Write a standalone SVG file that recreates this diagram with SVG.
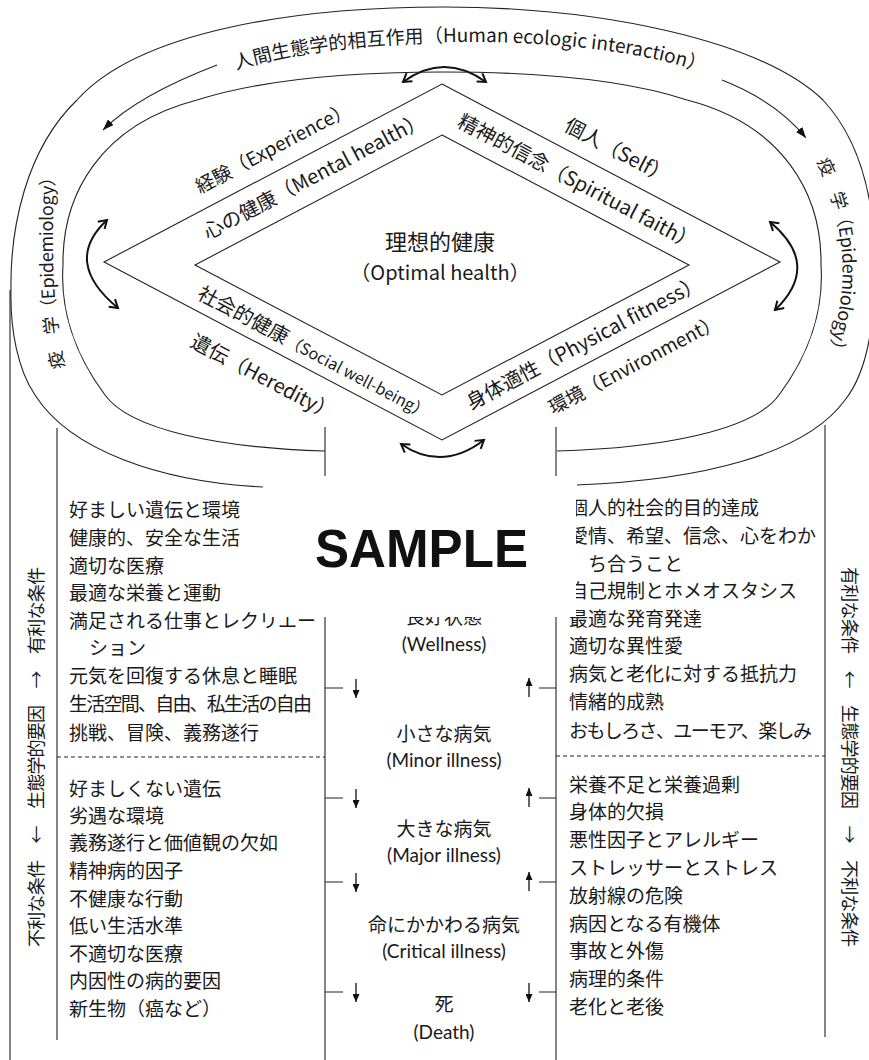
<svg xmlns="http://www.w3.org/2000/svg" width="869" height="1060" viewBox="0 0 869 1060">
<style>
text{font-family:"Noto Sans CJK JP","Noto Sans",sans-serif;fill:#1a1a1a}
.ln{fill:none;stroke:#222;stroke-width:1.1}
.dl{fill:none;stroke:#222;stroke-width:1;stroke-dasharray:4 3}
.da{fill:none;stroke:#111;stroke-width:2;marker-start:url(#chev);marker-end:url(#chev)}
.ar{fill:none;stroke:#111;stroke-width:1.3;marker-end:url(#sm)}
.lst{font-size:19px}
.mid{font-size:19px;text-anchor:middle}
.lat{font-family:Lato,"Noto Sans",sans-serif;font-size:19px;text-anchor:middle}
.dia{font-size:20px}
.vt{font-size:18px;text-anchor:middle;dominant-baseline:central}
.ep{font-size:18px;dominant-baseline:central}
</style>
<defs>
<marker id="chev" viewBox="0 0 12 12" refX="10" refY="6" markerWidth="12" markerHeight="12" markerUnits="userSpaceOnUse" orient="auto-start-reverse" overflow="visible"><path d="M2,1 L10,6 L2,11" fill="none" stroke="#111" stroke-width="2"/></marker>
<marker id="tri" viewBox="0 0 11 8" refX="11" refY="4" markerWidth="11" markerHeight="8" markerUnits="userSpaceOnUse" orient="auto"><path d="M0,0 L11,4 L0,8 z" fill="#111"/></marker>
<marker id="sm" viewBox="0 0 8 7" refX="8" refY="3.5" markerWidth="8" markerHeight="7" markerUnits="userSpaceOnUse" orient="auto"><path d="M0,0 L8,3.5 L0,7 z" fill="#111"/></marker>
<path id="arcTop" d="M225,74 C330,33 600,29 710,76"/>
<path id="epL" d="M57,369 Q40,300 47,160"/>
<path id="epR" d="M824,158 Q876,268 826,378"/>
</defs>
<rect width="869" height="1060" fill="#fff"/>

<g id="connectors">
  <path class="ln" d="M263,487 C160,482 70,450 35,395 C18,370 10,330 11,290 C10,230 25,150 77,100 C140,30 300,7 444,7 C600,7 760,40 823,100 C860,140 875,200 875,267 C875,330 865,375 845,400 C805,455 700,480 577,485"/>
  <path class="ln" d="M325,451 C220,448 130,430 105,395 C75,355 60,310 63,265 C62,195 100,125 197,100 C260,80 350,72 443,72 C536,72 626,80 687,100 C784,125 822,195 821,265 C824,310 809,355 779,395 C754,430 664,448 557,451"/>
  <path class="ln" d="M217,65 C170,83 130,103 103,130" marker-end="url(#tri)"/>
  <path class="ln" d="M722,80 C760,95 786,113 806,138" marker-end="url(#tri)"/>
  <path class="da" d="M403,82 Q444,52 486,82"/>
  <path class="da" d="M107,220 Q62,262 118,308"/>
  <path class="da" d="M770,222 Q822,265 775,310"/>
  <path class="da" d="M401,444 Q442,472 484,440"/>
  <path class="ln" d="M10,290 V1060"/>
  <path class="ln" d="M57,428 V1040"/>
  <path class="ln" d="M325,427 V1060"/>
  <path class="ln" d="M556,427 V1060"/>
  <path class="ln" d="M825,425 V1037"/>
  <path class="dl" d="M57,757 H325"/>
  <path class="dl" d="M556,756 H825"/>
  <path class="ln" d="M325,688 H343 M325,798 H343 M325,882 H343 M325,992 H343"/>
  <path class="ln" d="M539,688 H556 M539,798 H556 M539,882 H556 M539,992 H556"/>
  <path class="ar" d="M356,679 V698"/>
  <path class="ar" d="M356,789 V808"/>
  <path class="ar" d="M356,873 V892"/>
  <path class="ar" d="M356,983 V1002"/>
  <path class="ar" d="M529,697 V678"/>
  <path class="ar" d="M529,807 V788"/>
  <path class="ar" d="M529,891 V872"/>
  <path class="ar" d="M529,983 V1002"/>
</g>

<g id="diamond">
  <path class="ln" d="M442,84 L780,262 L442,440 L104,262 Z"/>
  <path class="ln" d="M442,135 L689,265 L442,395 L195,265 Z"/>
</g>

<g id="top-label">
  <text style="font-size:19px"><textPath href="#arcTop" startOffset="12">人間生態学的相互作用（Human ecologic interaction）</textPath></text>
</g>

<g id="epidemiology-left">
  <text class="ep" textLength="202"><textPath href="#epL">疫　学（Epidemiology）</textPath></text>
</g>
<g id="epidemiology-right">
  <text class="ep" textLength="206"><textPath href="#epR">疫　学（Epidemiology）</textPath></text>
</g>

<g id="diamond-labels" class="dia">
  <text transform="translate(200,194) rotate(-27.8)" style="font-size:19px">経験（Experience）</text>
  <text transform="translate(208,240) rotate(-27.8)">心の健康（Mental health）</text>
  <text transform="translate(456,126) rotate(27.8)">精神的信念（Spiritual faith）</text>
  <text transform="translate(563,130) rotate(27.8)">個人（Self）</text>
  <text transform="translate(196,298) rotate(27.8)">社会的健康<tspan style="font-size:16px">（Social well-being）</tspan></text>
  <text transform="translate(189,346) rotate(27.8)">遺伝（Heredity）</text>
  <text transform="translate(471,410) rotate(-27.8)">身体適性（Physical fitness）</text>
  <text transform="translate(553,415) rotate(-27.8)" style="font-size:19px">環境（Environment）</text>
</g>

<g id="optimal-health">
  <text x="440" y="250" style="font-size:22px;text-anchor:middle">理想的健康</text>
  <text x="440" y="280" style="font-size:20px;text-anchor:middle">（Optimal health）</text>
</g>

<g id="favorable-left" class="lst">
  <text x="69" y="517">好ましい遺伝と環境</text>
  <text x="69" y="545">健康的、安全な生活</text>
  <text x="69" y="573">適切な医療</text>
  <text x="69" y="600">最適な栄養と運動</text>
  <text x="69" y="628">満足される仕事とレクリエー</text>
  <text x="89" y="655">ション</text>
  <text x="69" y="683">元気を回復する休息と睡眠</text>
  <text x="69" y="711" textLength="243">生活空間、自由、私生活の自由</text>
  <text x="69" y="740">挑戦、冒険、義務遂行</text>
</g>
<g id="unfavorable-left" class="lst">
  <text x="69" y="796">好ましくない遺伝</text>
  <text x="69" y="823">劣遇な環境</text>
  <text x="69" y="850">義務遂行と価値観の欠如</text>
  <text x="69" y="878">精神病的因子</text>
  <text x="69" y="906">不健康な行動</text>
  <text x="69" y="933">低い生活水準</text>
  <text x="69" y="961">不適切な医療</text>
  <text x="69" y="988">内因性の病的要因</text>
  <text x="69" y="1016">新生物（癌など）</text>
</g>
<g id="favorable-right" class="lst">
  <text x="569" y="515">個人的社会的目的達成</text>
  <text x="569" y="543">愛情、希望、信念、心をわか</text>
  <text x="588" y="571">ち合うこと</text>
  <text x="569" y="598">自己規制とホメオスタシス</text>
  <text x="569" y="626">最適な発育発達</text>
  <text x="569" y="653">適切な異性愛</text>
  <text x="569" y="681">病気と老化に対する抵抗力</text>
  <text x="569" y="709">情緒的成熟</text>
  <text x="569" y="738" textLength="243">おもしろさ、ユーモア、楽しみ</text>
</g>
<g id="unfavorable-right" class="lst">
  <text x="569" y="792">栄養不足と栄養過剰</text>
  <text x="569" y="819">身体的欠損</text>
  <text x="569" y="847">悪性因子とアレルギー</text>
  <text x="569" y="875">ストレッサーとストレス</text>
  <text x="569" y="903">放射線の危険</text>
  <text x="569" y="931">病因となる有機体</text>
  <text x="569" y="958">事故と外傷</text>
  <text x="569" y="986">病理的条件</text>
  <text x="569" y="1014">老化と老後</text>
</g>

<g id="continuum">
  <text class="mid" x="444" y="624">良好状態</text>
  <text class="lat" x="444" y="651">(Wellness)</text>
  <text class="mid" x="444" y="741">小さな病気</text>
  <text class="lat" x="444" y="767">(Minor illness)</text>
  <text class="mid" x="444" y="836">大きな病気</text>
  <text class="lat" x="444" y="862">(Major illness)</text>
  <text class="mid" x="444" y="932">命にかかわる病気</text>
  <text class="lat" x="444" y="958">(Critical illness)</text>
  <text class="mid" x="444" y="1011">死</text>
  <text class="lat" x="444" y="1039">(Death)</text>
</g>

<g id="side-left">
  <text class="vt" transform="translate(35,757) rotate(-90)" textLength="380">不利な条件　←　生態学的要因　→　有利な条件</text>
</g>
<g id="side-right">
  <text class="vt" transform="translate(851,757) rotate(90)" textLength="380">有利な条件　←　生態学的要因　→　不利な条件</text>
</g>

<g id="watermark">
  <rect x="265" y="476" width="311" height="141" fill="#fff"/>
  <text x="315" y="567" textLength="213" lengthAdjust="spacingAndGlyphs" style="font-family:'Liberation Sans',sans-serif;font-weight:bold;font-size:54px;fill:#111">SAMPLE</text>
</g>
</svg>
